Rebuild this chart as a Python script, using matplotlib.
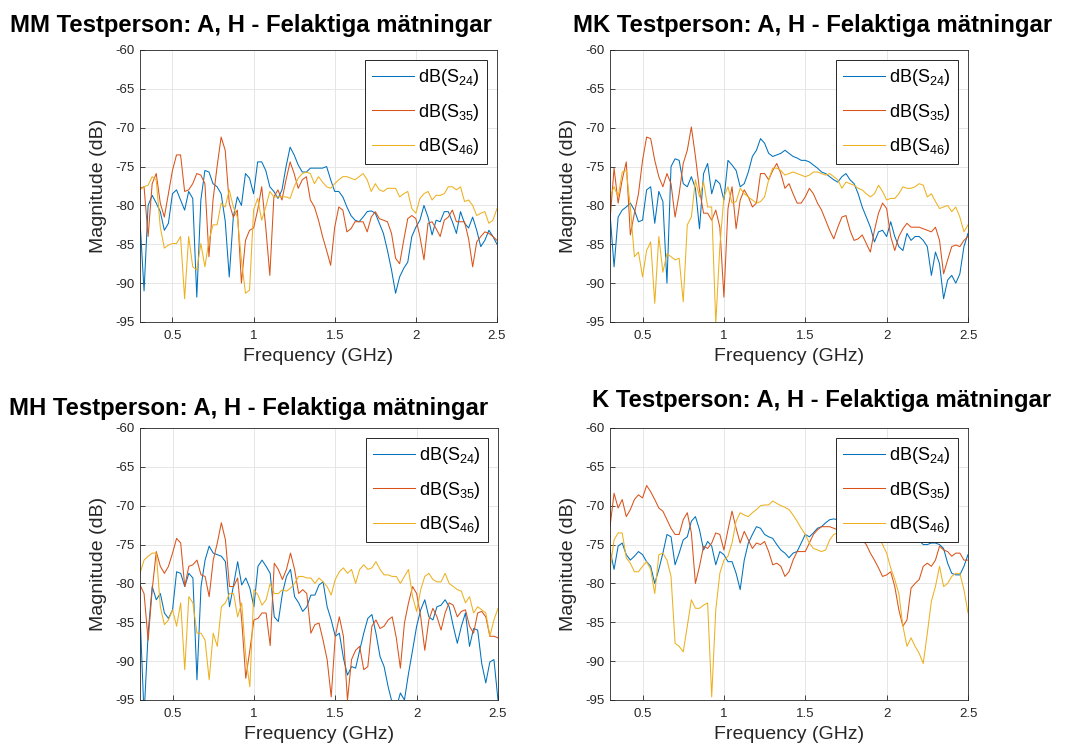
import numpy as np
import matplotlib
matplotlib.use("Agg")
import matplotlib.pyplot as plt

plt.rcParams['font.family'] = ['Liberation Sans', 'DejaVu Sans']
plt.rcParams['mathtext.fontset'] = 'custom'
plt.rcParams['mathtext.rm'] = 'Liberation Sans'
plt.rcParams['mathtext.it'] = 'Liberation Sans'
plt.rcParams['axes.unicode_minus'] = False

# MATLAB default line colours
BLUE = '#0072BD'
ORANGE = '#D95319'
YELLOW = '#EDB120'

# Magnitude in dB at 0.025 GHz steps from 0.3 to 2.5 GHz
mm_s24 = [-82, -91, -80, -78.7, -79.7, -80.8, -83.2, -82.3, -78.5, -78,
          -79.3, -80.6, -78.2, -79.1, -91.8, -79.3, -75.5, -75.7, -77.2, -77.6,
          -78.5, -82, -89.2, -81.5, -78.9, -80, -75.9, -76.5, -78.5, -74.4,
          -74.4, -75.5, -77.6, -78.2, -79.1, -78, -75, -72.5, -73.5, -74.8,
          -75.7, -75.7, -75.2, -75.2, -75.2, -75.2, -75, -76.7, -78.2, -78.2,
          -78.9, -80.2, -81.3, -81.9, -82.1, -81.5, -80.8, -80.7, -81, -82.3,
          -83.6, -85.8, -88.3, -91.3, -89.2, -88.1, -87.3, -84, -82.8, -81.9,
          -80, -81.5, -83.8, -81.9, -82.1, -80.8, -80.8, -82.1, -83.6, -80.8,
          -82.3, -82.9, -81.5, -83.2, -85.3, -84.5, -83.2, -84, -85]
mm_s35 = [-77.8, -77.6, -84, -77.2, -75.9, -79.7, -81.5, -78.5, -75.5, -73.5,
          -73.5, -78.2, -78, -77.2, -75.9, -76.1, -77.2, -86.6, -79.3, -75,
          -71.2, -72.9, -79.7, -81.5, -80.6, -90, -84.5, -83.2, -82.9, -80.6,
          -77.6, -82.8, -89, -78.9, -78, -79.3, -76.7, -74.4, -75.9, -77.8,
          -76.7, -76.3, -79.3, -80.2, -81.9, -84, -85.8, -87.7, -82.8, -80.2,
          -80.6, -83.4, -83, -82.1, -82.1, -82.1, -83.4, -81.5, -80.8, -81.7,
          -81.9, -82.1, -83.6, -86.8, -87.5, -84.5, -81.7, -81.3, -81.7, -84,
          -87, -82.3, -82.1, -83, -84, -81.9, -81.5, -80.6, -82.1, -82.1,
          -82.1, -84.3, -87.9, -84.7, -84, -83.4, -83.6, -84, -84.5]
mm_s46 = [-78, -77.6, -77.4, -76.3, -76.7, -82.8, -85.5, -85.1, -84.9, -84.9,
          -84, -92, -84, -87.9, -88.3, -84.9, -87.9, -84.5, -82.5, -82.5,
          -79.7, -80.2, -78, -80.2, -81.5, -87, -91.3, -90.9, -80.6, -79.1,
          -81.9, -80.2, -78.2, -78.9, -78.9, -78.9, -78.9, -79.1, -77.6, -76.5,
          -75.9, -75.7, -75.9, -77.2, -76.3, -77, -77.6, -77.8, -77.2, -76.7,
          -76.3, -76.3, -76.5, -76.7, -76.3, -75.9, -76.7, -78.2, -77.2, -78,
          -78.2, -77.8, -77.8, -77.8, -78.9, -78.5, -78.2, -80.4, -81, -79.1,
          -78.5, -78.2, -79.3, -78.7, -78.7, -78.5, -77.6, -77.6, -78, -77.6,
          -79.5, -79.3, -80, -81.3, -81, -80.8, -82.3, -81.9, -80.4]

mk_s24 = [-81, -87.9, -81.5, -80.6, -80.2, -79.7, -80.6, -82.1, -81.9, -78,
          -77.6, -82.3, -78.2, -79.5, -90, -75, -74, -74.2, -77.2, -77.6,
          -76.3, -77.8, -83, -75.9, -74.6, -78.5, -76.7, -77.2, -79.3, -74.2,
          -74.8, -75.5, -77.6, -77.2, -75.7, -73.7, -72.9, -71.4, -72, -73.3,
          -73.7, -73.5, -73.3, -72.9, -73.3, -73.7, -73.9, -74.2, -74.2, -74.4,
          -74.8, -75.2, -75.7, -75.9, -76.3, -76.7, -77, -76.3, -75.9, -76.7,
          -77.2, -78.5, -80.2, -81.5, -82.8, -84.7, -83.4, -83.2, -84, -82.1,
          -84, -85.3, -85.8, -83.6, -84.5, -84, -84, -84.5, -85.3, -89,
          -86, -87.5, -92, -89.6, -89, -90, -88.8, -85.3, -83.6]
mk_s35 = [-81.9, -75.2, -79.7, -76.7, -74.4, -83.8, -81, -78.5, -74.2, -71.2,
          -71.4, -74.2, -76.3, -77.6, -75.9, -77.2, -81.5, -78.5, -74.6, -72.9,
          -69.9, -73.7, -78, -81, -81, -81.9, -80.6, -82.8, -91.8, -80.4,
          -77.6, -83, -79.3, -78, -78.9, -80.2, -79.7, -75.9, -75.9, -76.7,
          -75.5, -74.6, -75.9, -77.8, -77.2, -78.5, -79.7, -79.7, -78.9, -77.8,
          -78.5, -79.7, -80.6, -81.9, -83.2, -84.3, -82.8, -81.5, -81.3, -83.2,
          -84.5, -84.3, -83.8, -84.9, -86, -83.2, -81, -79.7, -80.4, -84,
          -85.8, -84, -83, -82.3, -82.8, -82.8, -82.8, -83, -83.2, -83.4,
          -82.8, -84.5, -88.8, -87, -85.3, -85.1, -85.3, -84.5, -84]
mk_s46 = [-78.9, -77.6, -78.9, -75.7, -75.5, -80.2, -86.6, -86, -89.2, -85.8,
          -84.7, -92.6, -84, -88.6, -86.2, -86.6, -87, -86.8, -92.4, -82.5,
          -81.5, -76.7, -78.9, -77, -80.2, -80.2, -95.2, -85.3, -78.9, -77.6,
          -79.7, -79.5, -77.8, -78.5, -78.9, -79.3, -79.7, -79.5, -78.9, -76.7,
          -75.2, -75.2, -75.5, -76.1, -75.9, -75.7, -75.9, -76.1, -76.3, -76.1,
          -75.7, -75.7, -75.9, -76.1, -75.9, -76.3, -76.7, -77.8, -77, -77.2,
          -77.4, -77.8, -78, -78.5, -78.9, -78.5, -77.4, -78.2, -79.3, -79.1,
          -79.1, -78.5, -77.6, -77.8, -77.8, -77.6, -77.2, -77.4, -78.9, -78.5,
          -79.5, -80.4, -80.2, -80, -80.8, -80.2, -81.5, -83.4, -82.5]

mh_s24 = [-83.8, -97, -86.4, -80.4, -82.1, -81.3, -83.8, -84.5, -83.4, -78.5,
          -78.7, -80.4, -78.7, -79.3, -92.4, -80.4, -77, -75.2, -76.1, -76.3,
          -76.5, -77.2, -83, -80.2, -77.2, -80.2, -79.3, -80.6, -83, -77.8,
          -77, -77.8, -78.7, -84.3, -84.9, -81.3, -79.1, -78.2, -81.7, -82.5,
          -83.6, -83, -81.5, -81.5, -80.2, -79.8, -83, -84.7, -86.8, -86.4,
          -89.6, -91.8, -90.7, -90.9, -88.6, -86.4, -84.5, -84, -86.4, -89.4,
          -90.7, -93.3, -95.4, -96, -94.1, -95, -91.6, -88.6, -85.5, -83.4,
          -82.1, -84.3, -84.7, -83, -82.8, -82.1, -83, -85.5, -87.7, -85.5,
          -83.8, -88.1, -85.8, -86, -90.3, -92.8, -90.1, -89.8, -95]
mh_s35 = [-80.2, -81.3, -87.3, -80.8, -75.9, -77.8, -78.7, -77.8, -76.1, -74.2,
          -74.8, -80.4, -77.8, -77.6, -77, -78.9, -79.1, -81.7, -77, -74.8,
          -72.2, -74.4, -80.4, -80.4, -79.3, -84.7, -92.2, -88.6, -84.7, -84.5,
          -83.8, -83.8, -88, -77.4, -78.2, -79.5, -78.2, -76.1, -78.2, -81.3,
          -80.8, -81.3, -86.4, -85.3, -85.1, -87.3, -89.8, -94.6, -86.8, -84.3,
          -86.8, -95, -89.8, -88.6, -88.1, -91.1, -90.7, -85.5, -84.7, -85.8,
          -85.5, -84.7, -84.3, -87, -90.9, -85.1, -82.5, -80.4, -81.3, -84.3,
          -88.6, -84.7, -83.2, -84.3, -86, -83.8, -82.5, -82.8, -84.3, -83.6,
          -83.4, -85.5, -86.4, -83.8, -83.6, -84.3, -86.8, -86.8, -87]
mh_s46 = [-78.7, -77, -76.5, -76.1, -76.1, -83, -85.3, -84.7, -83.4, -85.5,
          -82.5, -91.1, -81.7, -82.5, -86.4, -86.4, -87.3, -92.4, -86.4, -88.1,
          -83, -82.5, -81.3, -81.3, -84.3, -82.5, -89.4, -93.3, -80.8, -81.5,
          -82.8, -82.1, -80, -81.3, -81.3, -80.8, -81, -80.6, -80, -79.1,
          -79.1, -79.3, -79.3, -80, -79.3, -79.8, -80.4, -81.5, -79.5, -78.5,
          -78, -78.7, -78.2, -80, -78.2, -77.6, -78.2, -78, -77.2, -78.2,
          -78.9, -78.9, -79.1, -79.1, -80, -79.1, -78.2, -81.7, -83.6, -80.8,
          -79.1, -78.7, -79.5, -79.8, -79.8, -78.7, -80, -80.4, -80.8, -81,
          -82.5, -81.7, -83.8, -83, -83.4, -83.8, -86.8, -84.7, -83.2]

k_s24 = [-75.7, -78.2, -75.2, -74.8, -76.3, -77, -76.5, -75.9, -76.3, -77.2,
         -77.8, -80, -78.2, -76.1, -73.7, -74, -77.6, -76.1, -74.4, -74,
         -72, -71.4, -73.1, -75.7, -74.6, -75.2, -77.6, -75.9, -76.3, -77.2,
         -77.2, -78.7, -80.8, -77, -74.8, -73.7, -72.7, -72.9, -73.7, -74,
         -74.2, -75, -75.7, -76.1, -76.7, -76.1, -75.9, -74.8, -73.7, -74,
         -73.5, -72.9, -72.7, -72.2, -71.8, -71.7, -71.8, -72, -72.5, -73,
         -73.5, -74, -74.5, -73.8, -73, -72.5, -73, -73.5, -74, -74.2,
         -74, -73.5, -73.8, -74.5, -74.5, -74, -74.5, -75, -75, -74.8,
         -74.8, -75, -75.5, -77.4, -78.7, -78.9, -78.9, -77.8, -76.3]
k_s35 = [-72.7, -68.4, -70.3, -69.2, -71.4, -70.5, -69.2, -68.6, -69, -67.4,
         -68.2, -69.2, -70.3, -70.7, -71.8, -72.9, -73.7, -73.7, -71.8, -70.9,
         -73.5, -80, -77.8, -75.2, -75.5, -74.8, -73.5, -73.7, -75.7, -73.1,
         -70.7, -72.9, -74.8, -73.3, -74.4, -75.5, -74.8, -75, -74.6, -75.9,
         -77.6, -77.4, -77.8, -79.1, -78.5, -77, -75.9, -75.9, -75.9, -74.8,
         -73.7, -73.1, -72.7, -72.7, -72.7, -72.9, -73.1, -73.5, -73, -72.5,
         -73, -73.5, -74.4, -75, -76.1, -77, -78, -79.1, -78.9, -78.5,
         -80.4, -83.4, -85.5, -84.7, -80.6, -80, -79.5, -77.8, -77.4, -77.8,
         -77, -75.2, -75.7, -75.9, -76.5, -76.1, -76.1, -77, -77]
k_s46 = [-78.2, -74.4, -73.5, -73.5, -76.7, -77.4, -78.5, -78.5, -77.8, -77.2,
         -78.2, -81.3, -76.3, -76.1, -77, -79.1, -87.7, -88.1, -88.8, -85.5,
         -82.1, -83.2, -83.2, -82.8, -82.5, -94.6, -83.4, -78.7, -77, -76.5,
         -74.8, -72, -70.9, -71.2, -71.4, -70.9, -70.5, -70, -69.9, -69.9,
         -69.4, -69.7, -70, -70.2, -70.5, -71.2, -72, -72.9, -73.7, -74.8,
         -75.5, -75.7, -75.9, -75.7, -74.4, -73.7, -73.5, -73, -72.5, -72,
         -72.5, -73, -73.5, -73, -72.5, -73.5, -74, -75, -76.1, -78,
         -79.5, -81.3, -85.5, -88.1, -87, -88.1, -89, -90.3, -86.4, -82.3,
         -80.4, -77.8, -80.4, -80, -79.1, -78.7, -78.7, -80.8, -83.8]

titles = ['MM Testperson: A, H - Felaktiga mätningar',
          'MK Testperson: A, H - Felaktiga mätningar',
          'MH Testperson: A, H - Felaktiga mätningar',
          'K Testperson: A, H - Felaktiga mätningar']
series = [(mm_s24, mm_s35, mm_s46), (mk_s24, mk_s35, mk_s46),
          (mh_s24, mh_s35, mh_s46), (k_s24, k_s35, k_s46)]
labels = ['dB(S$_{24}$)', 'dB(S$_{35}$)', 'dB(S$_{46}$)']
yticks = [-60, -65, -70, -75, -80, -85, -90, -95]
xticks = [0.5, 1, 1.5, 2, 2.5]

W, H = 1066, 746
fig = plt.figure(figsize=(W / 100, H / 100), dpi=100)

# axes boxes in pixels: left, top, right, bottom
boxes = [(140, 50, 497, 322), (610, 50, 968, 322),
         (140, 428, 498, 700), (610, 428, 968, 700)]
# title anchor: left x, baseline y
title_pos = [(10, 32), (573, 32), (9, 415), (592, 407)]

for i in range(4):
    l, t, r, b = boxes[i]
    ax = fig.add_axes([l / W, 1 - b / H, (r - l) / W, (b - t) / H])
    for vals, c, lab in zip(series[i], [BLUE, ORANGE, YELLOW], labels):
        f = np.linspace(0.3, 2.5, len(vals))
        ax.plot(f, vals, color=c, lw=0.75, label=lab)
    ax.set_xlim(0.3, 2.5)
    ax.set_ylim(-95, -60)
    ax.set_xticks(xticks)
    ax.set_xticklabels(['0.5', '1', '1.5', '2', '2.5'])
    ax.set_yticks(yticks)
    ax.grid(True, color='#e6e6e6', lw=0.7)
    ax.set_axisbelow(True)
    ax.tick_params(direction='in', length=3.5, width=0.6, colors='#262626',
                   labelsize=9.5)
    ax.tick_params(axis='x', pad=6)
    ax.tick_params(axis='y', pad=4)
    for s in ax.spines.values():
        s.set_color('#262626')
        s.set_linewidth(0.6)
    ax.set_xlabel('Frequency (GHz)', fontsize=14, color='#262626')
    ax.set_ylabel('Magnitude (dB)', fontsize=14, color='#262626')
    ax.xaxis.set_label_coords(0.5, -0.095)
    ax.yaxis.set_label_coords(-0.093, 0.5)
    leg = ax.legend(loc='upper right', fontsize=13, handlelength=2.3,
                    handletextpad=0.25, labelspacing=0.75, borderaxespad=0.55,
                    fancybox=False, framealpha=1, borderpad=0.4)
    leg.get_frame().set_edgecolor('#262626')
    leg.get_frame().set_linewidth(0.7)
    tx, ty = title_pos[i]
    fig.text(tx / W, 1 - ty / H, titles[i], fontsize=17.2, fontweight='bold',
             ha='left', va='baseline')

fig.savefig('out.png', dpi=100)
